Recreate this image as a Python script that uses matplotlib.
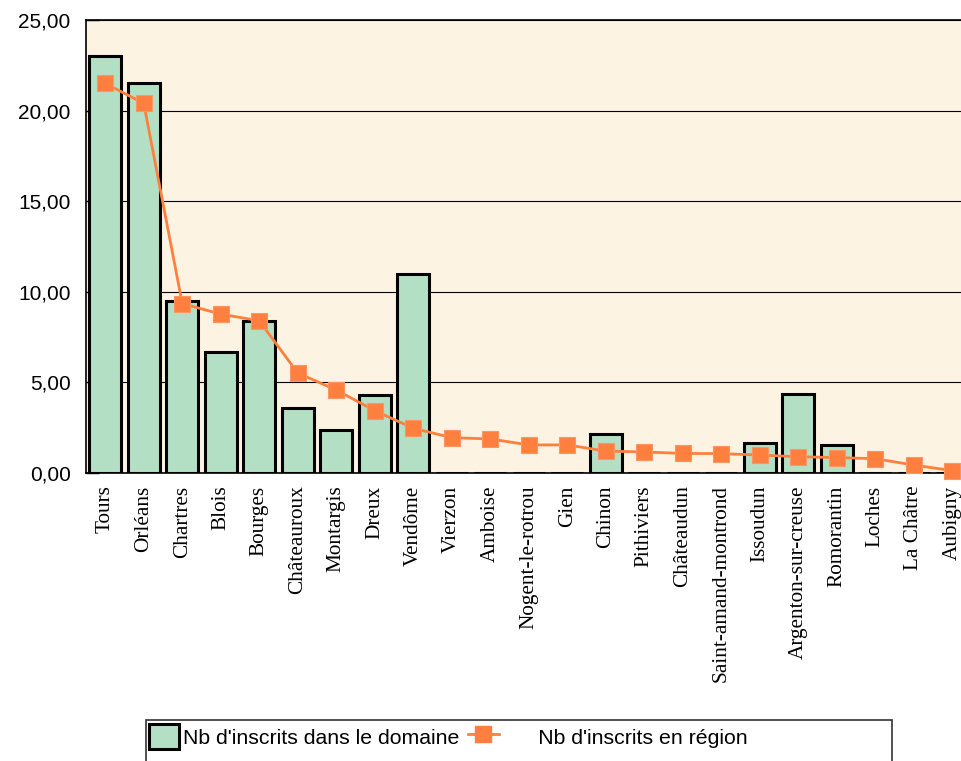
from matplotlib import pyplot as plt
from matplotlib.patches import Rectangle
from matplotlib.lines import Line2D
from matplotlib.ticker import FuncFormatter, MultipleLocator
import numpy as np

villes = ["Tours", "Orléans", "Chartres", "Blois", "Bourges", "Châteauroux",
          "Montargis", "Dreux", "Vendôme", "Vierzon", "Amboise", "Nogent-le-rotrou",
          "Gien", "Chinon", "Pithiviers", "Châteaudun", "Saint-amand-montrond",
          "Issoudun", "Argenton-sur-creuse", "Romorantin", "Loches", "La Châtre",
          "Aubigny"]

domaine = [23.0, 21.5, 9.5, 6.7, 8.4, 3.6, 2.35, 4.3, 11.0, 0, 0, 0,
           0, 2.15, 0, 0, 0, 1.64, 4.36, 1.53, 0, 0, 0]

region = [21.5, 20.4, 9.35, 8.77, 8.4, 5.52, 4.58, 3.44, 2.47, 1.95, 1.88, 1.55,
          1.55, 1.21, 1.16, 1.08, 1.07, 0.99, 0.9, 0.85, 0.79, 0.44, 0.13]

vert = '#B3E0C4'
orange = '#FF7F3F'
fond = '#FDF3E3'

def drawGraph():
	fig = plt.figure(figsize=(9.61, 7.61), dpi=100)
	ax = fig.add_axes([86/961, 1-473/761, 885.5/961, 453/761])
	ax.set_facecolor(fond)

	x = np.arange(len(villes))
	ax.bar(x, domaine, width=0.83, color=vert, edgecolor='black', linewidth=2.2, zorder=2)
	ax.plot(x, region, '-s', color=orange, linewidth=2, markersize=11,
	        markeredgecolor='#FF9560', markeredgewidth=0.8, zorder=3, clip_on=False)

	ax.set_xlim(-0.5, len(villes)-0.5)
	ax.set_ylim(0, 25)
	ax.yaxis.set_major_locator(MultipleLocator(5))
	ax.yaxis.set_major_formatter(FuncFormatter(lambda v, p: ("%.2f" % v).replace('.', ',')))
	ax.yaxis.grid(True, color='black', linewidth=0.8, zorder=0)
	ax.set_axisbelow(True)

	ax.set_xticks(x)
	ax.set_xticklabels(villes, rotation=90, family='Liberation Serif', fontsize=15.3)
	ax.tick_params(axis='x', length=0, pad=9)
	ax.tick_params(axis='y', direction='in', length=9, width=1, pad=11, labelsize=15)
	for t in ax.get_yticklabels():
		t.set_family('Liberation Sans')
	for s in ax.spines.values():
		s.set_linewidth(1.2)

	# cadre de la legende
	fig.patches.append(Rectangle((146/961, -0.02), (892-146)/961, 1-720/761+0.02,
	                   transform=fig.transFigure, facecolor='white',
	                   edgecolor='#333333', linewidth=1.2, zorder=0))

	h1 = Rectangle((0, 0), 1, 1, facecolor=vert, edgecolor='black', linewidth=2.2)
	h2 = Line2D([], [], color=orange, marker='s', linewidth=2, markersize=11)
	fig.legend([h1, h2], ["Nb d'inscrits dans le domaine", "      Nb d'inscrits en région"],
	           loc='upper left', bbox_to_anchor=(148/961, 1-723/761), ncol=2,
	           frameon=False, prop={'family': 'Liberation Sans', 'size': 15.3},
	           handlelength=1.42, handleheight=1.42, handletextpad=0.2,
	           columnspacing=0.4, borderpad=0.05, borderaxespad=0)

	plt.savefig('out.png', dpi=100)

def main():
	drawGraph()

if __name__ == "__main__":
	main()
